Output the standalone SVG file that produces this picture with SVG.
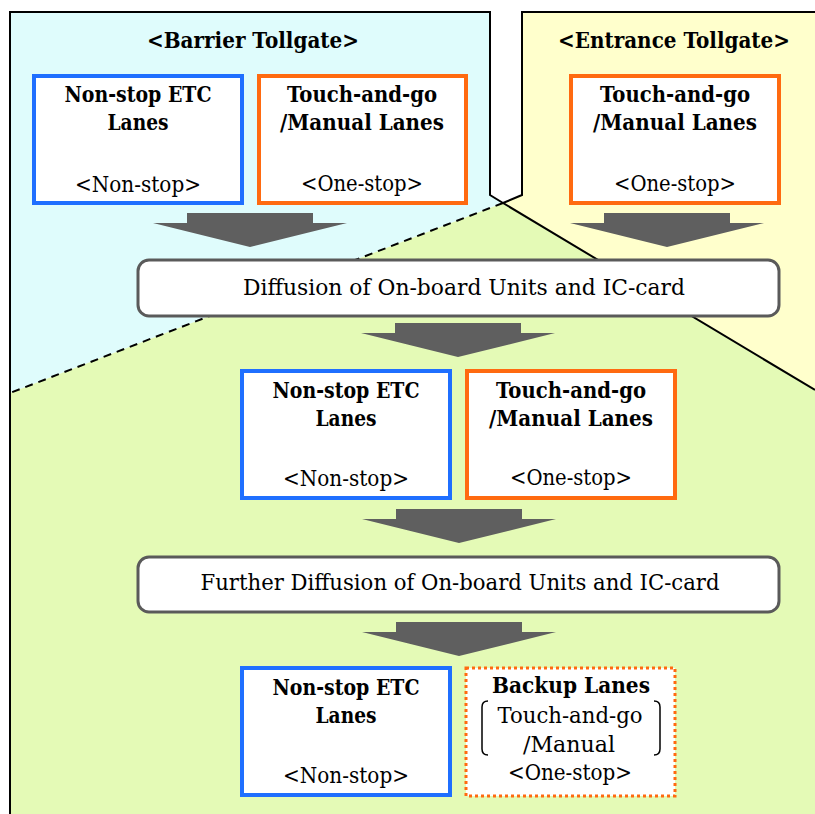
<svg xmlns="http://www.w3.org/2000/svg" width="815" height="814" viewBox="0 0 815 814">
  <style>
    text { font-family: "DejaVu Serif", "Liberation Serif", serif; fill: #000; text-anchor: middle; }
    .hd { font-size: 22px; font-weight: bold; }
    .b { font-size: 23px; font-weight: bold; }
    .r { font-size: 22px; }
    .etc { fill: #fff; stroke: #1f6fff; stroke-width: 4; }
    .tng { fill: #fff; stroke: #ff6a10; stroke-width: 4; }
    .backup { fill: #fff; stroke: #ff6a10; stroke-width: 3; stroke-dasharray: 3 3; }
    .step { fill: #fff; stroke: #5a5a5a; stroke-width: 3; }
    .edge { fill: none; stroke: #000; stroke-width: 2; }
    .arrow { fill: #5f5f5f; }
  </style>
  <defs>
    <!-- block arrow, origin at the shaft's top centre -->
    <path id="blk" d="M -63 0 H 63 V 10 H 97 L 0 34 L -97 10 H -63 Z"/>
  </defs>

  <!-- zones -->
  <g id="zones">
    <polygon points="10,12 490,12 490,195 503,203 10,393" fill="#dffcfc"/>
    <polygon points="522,12 815,12 815,390 503,203 522,195" fill="#ffffcc"/>
    <polygon points="503,203 815,390 815,814 10,814 10,393" fill="#e4fab6"/>
    <polyline class="edge" points="10,814 10,12 490,12 490,195 503,203"/>
    <polyline class="edge" points="815,12 522,12 522,195 503,203 815,390"/>
    <line x1="503" y1="203" x2="10" y2="393" stroke="#000" stroke-width="2" stroke-dasharray="8 6"/>
    <text class="hd" x="253" y="48" textLength="212" lengthAdjust="spacingAndGlyphs">&lt;Barrier Tollgate&gt;</text>
    <text class="hd" x="674" y="48" textLength="232" lengthAdjust="spacingAndGlyphs">&lt;Entrance Tollgate&gt;</text>
  </g>

  <!-- connectors -->
  <g id="connectors" class="arrow">
    <use href="#blk" x="250" y="213"/>
    <use href="#blk" x="667" y="213"/>
    <use href="#blk" x="458" y="323"/>
    <use href="#blk" x="459" y="509"/>
    <use href="#blk" x="459" y="622"/>
  </g>

  <!-- barrier tollgate lanes -->
  <g id="barrier-etc">
    <rect class="etc" x="34" y="76" width="208" height="127"/>
    <text class="b" x="138" y="102" textLength="147" lengthAdjust="spacingAndGlyphs">Non-stop ETC</text>
    <text class="b" x="138" y="130" textLength="61" lengthAdjust="spacingAndGlyphs">Lanes</text>
    <text class="r" x="138" y="192" textLength="126" lengthAdjust="spacingAndGlyphs">&lt;Non-stop&gt;</text>
  </g>
  <g id="barrier-tng">
    <rect class="tng" x="259" y="76" width="207" height="127"/>
    <text class="b" x="362" y="102" textLength="150" lengthAdjust="spacingAndGlyphs">Touch-and-go</text>
    <text class="b" x="362" y="130" textLength="164" lengthAdjust="spacingAndGlyphs">/Manual Lanes</text>
    <text class="r" x="362" y="191" textLength="122" lengthAdjust="spacingAndGlyphs">&lt;One-stop&gt;</text>
  </g>

  <!-- entrance tollgate lanes -->
  <g id="entrance-tng">
    <rect class="tng" x="571" y="76" width="208" height="127"/>
    <text class="b" x="675" y="102" textLength="150" lengthAdjust="spacingAndGlyphs">Touch-and-go</text>
    <text class="b" x="675" y="130" textLength="164" lengthAdjust="spacingAndGlyphs">/Manual Lanes</text>
    <text class="r" x="675" y="191" textLength="122" lengthAdjust="spacingAndGlyphs">&lt;One-stop&gt;</text>
  </g>

  <g id="diffusion">
    <rect class="step" x="138" y="260" width="641" height="56" rx="11"/>
    <text class="r" x="464" y="295" textLength="442" lengthAdjust="spacingAndGlyphs">Diffusion of On-board Units and IC-card</text>
  </g>

  <g id="mid-etc">
    <rect class="etc" x="242" y="371" width="208" height="127"/>
    <text class="b" x="346" y="398" textLength="147" lengthAdjust="spacingAndGlyphs">Non-stop ETC</text>
    <text class="b" x="346" y="426" textLength="61" lengthAdjust="spacingAndGlyphs">Lanes</text>
    <text class="r" x="346" y="486" textLength="126" lengthAdjust="spacingAndGlyphs">&lt;Non-stop&gt;</text>
  </g>
  <g id="mid-tng">
    <rect class="tng" x="467" y="371" width="208" height="127"/>
    <text class="b" x="571" y="398" textLength="150" lengthAdjust="spacingAndGlyphs">Touch-and-go</text>
    <text class="b" x="571" y="426" textLength="164" lengthAdjust="spacingAndGlyphs">/Manual Lanes</text>
    <text class="r" x="571" y="485" textLength="122" lengthAdjust="spacingAndGlyphs">&lt;One-stop&gt;</text>
  </g>

  <g id="further-diffusion">
    <rect class="step" x="138" y="557" width="641" height="55" rx="11"/>
    <text class="r" x="460" y="590" textLength="519" lengthAdjust="spacingAndGlyphs">Further Diffusion of On-board Units and IC-card</text>
  </g>

  <g id="final-etc">
    <rect class="etc" x="242" y="668" width="208" height="127"/>
    <text class="b" x="346" y="695" textLength="147" lengthAdjust="spacingAndGlyphs">Non-stop ETC</text>
    <text class="b" x="346" y="723" textLength="61" lengthAdjust="spacingAndGlyphs">Lanes</text>
    <text class="r" x="346" y="783" textLength="126" lengthAdjust="spacingAndGlyphs">&lt;Non-stop&gt;</text>
  </g>
  <g id="final-backup">
    <rect class="backup" x="466" y="668" width="209" height="128"/>
    <text class="b" x="571" y="693" textLength="158" lengthAdjust="spacingAndGlyphs">Backup Lanes</text>
    <text class="r" x="570" y="723" textLength="145" lengthAdjust="spacingAndGlyphs">Touch-and-go</text>
    <text class="r" x="569" y="752" textLength="92" lengthAdjust="spacingAndGlyphs">/Manual</text>
    <text class="r" x="570" y="780" textLength="124" lengthAdjust="spacingAndGlyphs">&lt;One-stop&gt;</text>
    <path d="M 488 701 Q 482 701 482 707 V 749 Q 482 755 488 755" fill="none" stroke="#000" stroke-width="1.5"/>
    <path d="M 654 701 Q 660 701 660 707 V 749 Q 660 755 654 755" fill="none" stroke="#000" stroke-width="1.5"/>
  </g>
</svg>
